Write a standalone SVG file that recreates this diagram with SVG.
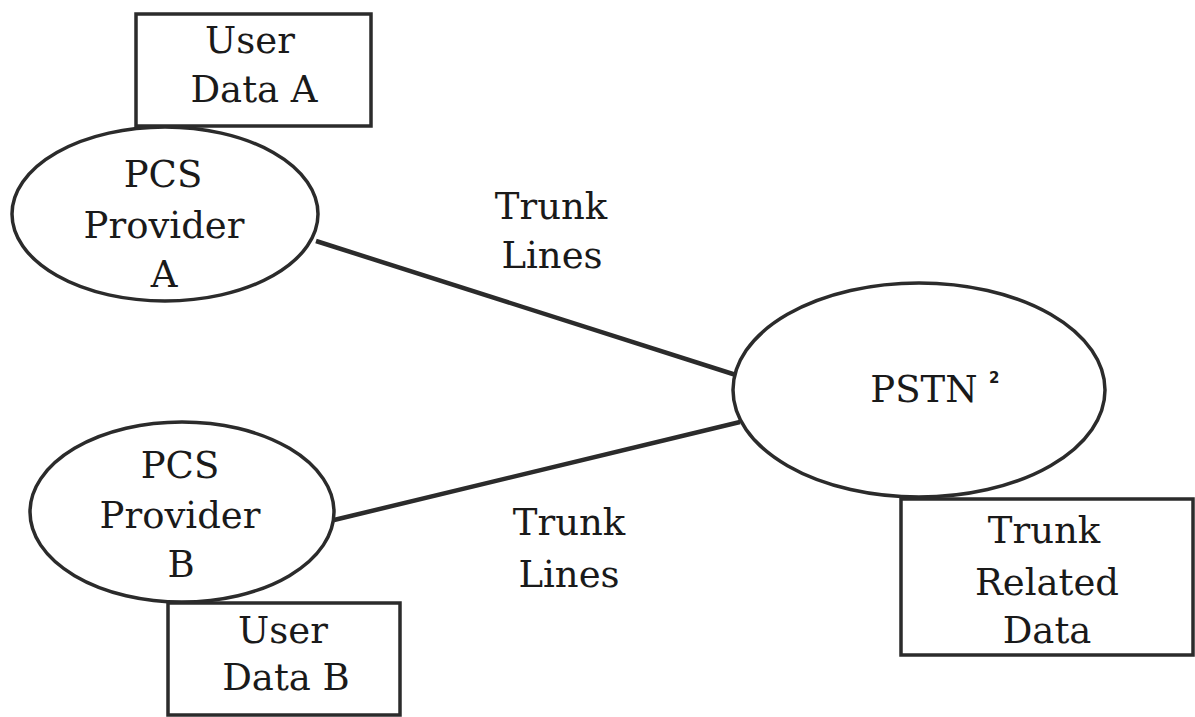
<svg xmlns="http://www.w3.org/2000/svg" width="1195" height="717" viewBox="0 0 1195 717">
<style>
.shape{fill:#ffffff;stroke:#2b2b2b;stroke-width:3.5}
.conn{stroke:#2b2b2b;stroke-width:4.5;fill:none}
.t{font-family:"DejaVu Serif","Liberation Serif",serif;font-size:37px;fill:#1a1a1a;text-anchor:middle}
.sup{font-family:"DejaVu Sans","Liberation Sans",sans-serif;font-size:15px;font-weight:bold;fill:#1a1a1a}
</style>
<rect width="1195" height="717" fill="#ffffff"/>
<g id="connectors">
<line class="conn" x1="316" y1="241" x2="736" y2="375"/>
<line class="conn" x1="334" y1="520" x2="740" y2="422"/>
</g>
<g id="user-data-a">
<rect class="shape" x="136" y="14" width="235" height="112"/>
<text class="t" x="250" y="53">User</text>
<text class="t" x="254" y="102">Data A</text>
</g>
<g id="pcs-provider-a">
<ellipse class="shape" cx="165" cy="214" rx="153" ry="87"/>
<text class="t" x="163" y="187">PCS</text>
<text class="t" x="164" y="238">Provider</text>
<text class="t" x="164" y="287">A</text>
</g>
<g id="pcs-provider-b">
<ellipse class="shape" cx="182" cy="512" rx="152" ry="90"/>
<text class="t" x="180" y="478">PCS</text>
<text class="t" x="180" y="528">Provider</text>
<text class="t" x="181" y="577">B</text>
</g>
<g id="user-data-b">
<rect class="shape" x="168" y="603" width="232" height="112"/>
<text class="t" x="283" y="643">User</text>
<text class="t" x="286" y="690">Data B</text>
</g>
<g id="pstn">
<ellipse class="shape" cx="919" cy="390" rx="186" ry="107"/>
<text class="t" x="924" y="402">PSTN</text>
<text class="sup" x="989" y="383">2</text>
</g>
<g id="trunk-related-data">
<rect class="shape" x="901" y="499" width="292" height="156"/>
<text class="t" x="1044" y="543">Trunk</text>
<text class="t" x="1047" y="595">Related</text>
<text class="t" x="1047" y="643">Data</text>
</g>
<g id="label-trunk-a">
<text class="t" x="551" y="219">Trunk</text>
<text class="t" x="552" y="268">Lines</text>
</g>
<g id="label-trunk-b">
<text class="t" x="569" y="535">Trunk</text>
<text class="t" x="569" y="587">Lines</text>
</g>
</svg>
